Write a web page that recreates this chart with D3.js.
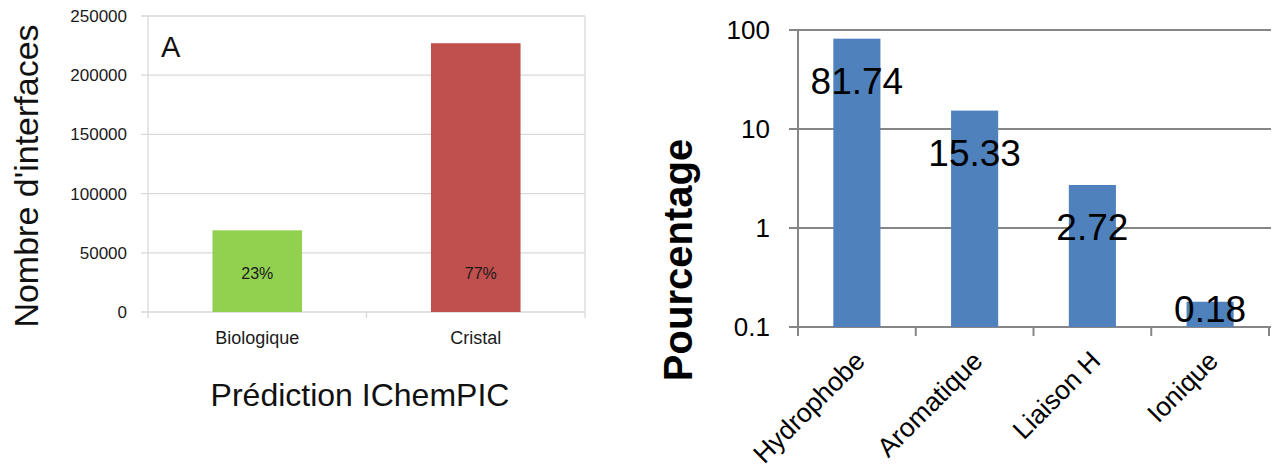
<!DOCTYPE html>
<html>
<head>
<meta charset="utf-8">
<script src="https://cdn.jsdelivr.net/npm/d3@7"></script>
<style>
  html, body { margin: 0; padding: 0; background: #ffffff; }
  svg { display: block; font-family: "Liberation Sans", Arial, sans-serif; }
</style>
</head>
<body>
<svg id="chart" width="1275" height="472"></svg>
<script>
// ---------- Data ----------
const leftCategories = ["Biologique", "Cristal"];
const leftValues = [69000, 227000];
const leftPercents = ["23%", "77%"];
const leftColors = ["#92d050", "#c0504d"];
const leftTicks = [0, 50000, 100000, 150000, 200000, 250000];

const rightCategories = ["Hydrophobe", "Aromatique", "Liaison H", "Ionique"];
const rightValues = [81.74, 15.33, 2.72, 0.18];
const rightLabels = ["81.74", "15.33", "2.72", "0.18"];
const rightTicks = [0.1, 1, 10, 100];
const rightTickLabels = ["0.1", "1", "10", "100"];

const svg = d3.select("#chart");

// ---------- Left chart ----------
const L = { left: 148, right: 585, top: 16, bottom: 312 };
const yL = d3.scaleLinear().domain([0, 250000]).range([L.bottom, L.top]);
const xL = d3.scaleBand().domain(leftCategories).range([L.left, L.right]);
const gL = svg.append("g");
const gridColL = "#d9d9d9";

// gridlines
gL.append("g").selectAll("line").data(leftTicks).join("line")
  .attr("x1", L.left - 7).attr("x2", L.right)
  .attr("y1", d => yL(d)).attr("y2", d => yL(d))
  .attr("stroke", gridColL).attr("stroke-width", 1.3);
// left axis line & right border
gL.append("line").attr("x1", L.left).attr("x2", L.left).attr("y1", L.top).attr("y2", L.bottom + 6)
  .attr("stroke", gridColL).attr("stroke-width", 1.3);
gL.append("line").attr("x1", L.right).attr("x2", L.right).attr("y1", L.top).attr("y2", L.bottom + 6)
  .attr("stroke", gridColL).attr("stroke-width", 1.3);
// category separator tick
gL.append("line").attr("x1", xL(leftCategories[1])).attr("x2", xL(leftCategories[1]))
  .attr("y1", L.bottom).attr("y2", L.bottom + 6)
  .attr("stroke", gridColL).attr("stroke-width", 1.3);

// y axis labels
const yAxisL = d3.axisLeft(yL).tickValues(leftTicks).tickSize(0).tickPadding(21).tickFormat(d => String(d));
const yAxL = gL.append("g").attr("transform", `translate(${L.left},0)`).call(yAxisL);
yAxL.select(".domain").remove();
yAxL.selectAll("text").attr("font-size", 17).attr("fill", "#1a1a1a")
  .attr("font-family", "'Liberation Sans', Arial, sans-serif");

// bars
const bwL = xL.bandwidth() * 0.41;
gL.append("g").selectAll("rect").data(leftValues).join("rect")
  .attr("x", (d, i) => xL(leftCategories[i]) + xL.bandwidth() / 2 - bwL / 2)
  .attr("width", bwL)
  .attr("y", d => yL(d))
  .attr("height", d => yL(0) - yL(d))
  .attr("fill", (d, i) => leftColors[i]);

// percent labels
gL.append("g").selectAll("text").data(leftPercents).join("text")
  .attr("x", (d, i) => xL(leftCategories[i]) + xL.bandwidth() / 2 + (i === 1 ? 5 : 0))
  .attr("y", yL(0) - 33)
  .attr("text-anchor", "middle").attr("font-size", 16).attr("fill", "#1a1a1a")
  .text(d => d);

// x axis labels
const xAxisL = d3.axisBottom(xL).tickSize(0).tickPadding(19);
const xAxL = gL.append("g").attr("transform", `translate(0,${L.bottom})`).call(xAxisL);
xAxL.select(".domain").remove();
xAxL.selectAll("text").attr("font-size", 18).attr("fill", "#1a1a1a")
  .attr("font-family", "'Liberation Sans', Arial, sans-serif");

// "A" label
gL.append("text").attr("x", 161).attr("y", 57).attr("font-size", 29).attr("fill", "#111").text("A");

// axis titles
gL.append("text").attr("x", 360).attr("y", 406).attr("text-anchor", "middle")
  .attr("font-size", 32).attr("fill", "#111").text("Prédiction IChemPIC");
gL.append("text").attr("transform", "translate(38,176) rotate(-90)").attr("text-anchor", "middle")
  .attr("font-size", 34).attr("fill", "#111").text("Nombre d'interfaces");

// ---------- Right chart ----------
const R = { left: 798, right: 1269, top: 30, bottom: 327 };
const yR = d3.scaleLog().domain([0.1, 100]).range([R.bottom, R.top]);
const xR = d3.scaleBand().domain(rightCategories).range([R.left, R.right]);
const gR = svg.append("g");
const axisCol = "#868686";

// gridlines
gR.append("g").selectAll("line").data(rightTicks).join("line")
  .attr("x1", R.left - 9).attr("x2", R.right + 2)
  .attr("y1", d => yR(d)).attr("y2", d => yR(d))
  .attr("stroke", axisCol).attr("stroke-width", 1.8);
// y axis line
gR.append("line").attr("x1", R.left).attr("x2", R.left).attr("y1", R.top).attr("y2", R.bottom + 9)
  .attr("stroke", axisCol).attr("stroke-width", 2);
// x axis category ticks
const xTickPos = rightCategories.map(c => xR(c)).concat([R.right]);
gR.append("g").selectAll("line").data(xTickPos).join("line")
  .attr("x1", d => d).attr("x2", d => d)
  .attr("y1", R.bottom).attr("y2", R.bottom + 9)
  .attr("stroke", axisCol).attr("stroke-width", 2);

// y tick labels
const yAxisR = d3.axisLeft(yR).tickValues(rightTicks).tickSize(0).tickPadding(28)
  .tickFormat((d, i) => rightTickLabels[i]);
const yAxR = gR.append("g").attr("transform", `translate(${R.left},0)`).call(yAxisR);
yAxR.select(".domain").remove();
yAxR.selectAll("text").attr("font-size", 26).attr("fill", "#000")
  .attr("font-family", "'Liberation Sans', Arial, sans-serif");

// bars
const bwR = xR.bandwidth() * 0.4;
gR.append("g").selectAll("rect").data(rightValues).join("rect")
  .attr("x", (d, i) => xR(rightCategories[i]) + xR.bandwidth() / 2 - bwR / 2)
  .attr("width", bwR)
  .attr("y", d => yR(d))
  .attr("height", d => yR(0.1) - yR(d))
  .attr("fill", "#4f81bd");

// data labels
gR.append("g").selectAll("text").data(rightValues).join("text")
  .attr("x", (d, i) => xR(rightCategories[i]) + xR.bandwidth() / 2)
  .attr("y", d => Math.min(yR(d) + 55, R.bottom - 5))
  .attr("text-anchor", "middle").attr("font-size", 37).attr("fill", "#000")
  .text((d, i) => rightLabels[i]);

// rotated category labels
gR.append("g").selectAll("text").data(rightCategories).join("text")
  .attr("transform", d => `translate(${xR(d) + xR.bandwidth() / 2 + 3},${R.bottom + 29}) rotate(-45)`)
  .attr("text-anchor", "end").attr("dy", "0.35em")
  .attr("font-size", 26.5).attr("fill", "#000")
  .text(d => d);

// y axis title
gR.append("text").attr("transform", "translate(692,260) rotate(-90)").attr("text-anchor", "middle")
  .attr("font-size", 40).attr("font-weight", "bold").attr("fill", "#000").text("Pourcentage");
</script>
</body>
</html>
